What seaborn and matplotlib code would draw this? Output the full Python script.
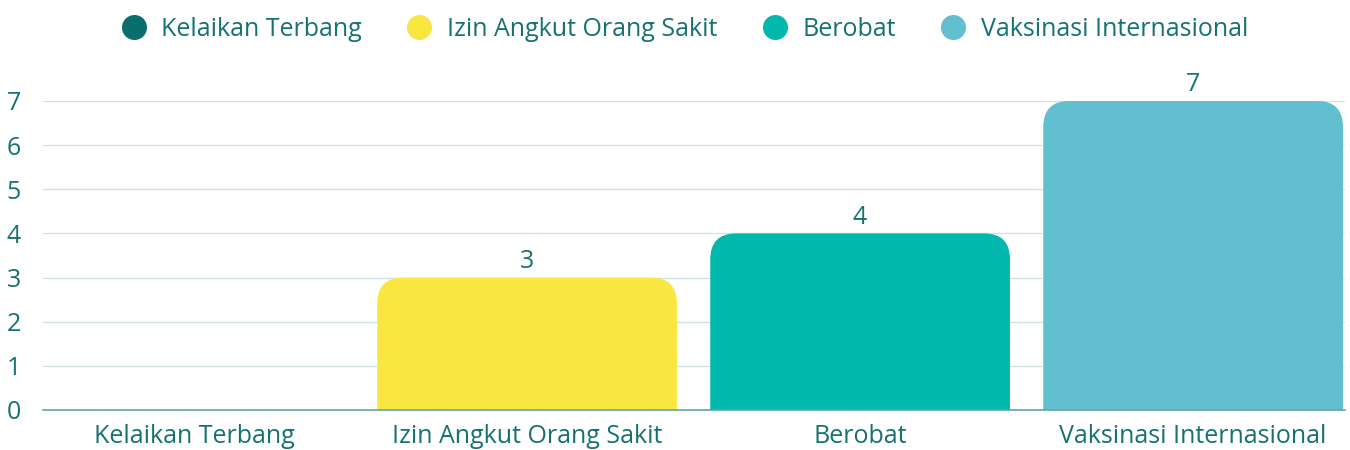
import matplotlib
matplotlib.use("Agg")
import matplotlib.pyplot as plt
from matplotlib.patches import FancyBboxPatch
from matplotlib.lines import Line2D
import seaborn as sns
import pandas as pd

categories = ["Kelaikan Terbang", "Izin Angkut Orang Sakit", "Berobat", "Vaksinasi Internasional"]
values = [0, 3, 4, 7]
colors = ["#0b6e6e", "#f9e640", "#00b8ac", "#61bfcf"]
yticks = [0, 1, 2, 3, 4, 5, 6, 7]

TEXT = "#167272"

sns.set_theme(style="white")
plt.rcParams["font.family"] = ["Open Sans", "DejaVu Sans"]

df = pd.DataFrame({"cat": categories, "val": values})

fig = plt.figure(figsize=(13.5, 4.5), dpi=100)
ax = fig.add_axes([0.032, 0.0889, 0.9643, 0.6867])

sns.barplot(data=df, x="cat", y="val", hue="cat", palette=colors, dodge=False,
            width=0.9, legend=False, ax=ax, saturation=1)

ax.set_xlim(-0.453, 3.456)
ax.set_ylim(0, 7)

# replace rectangles with top-rounded bars
xpx = ax.bbox.width / (3.456 + 0.453)
ypx = ax.bbox.height / 7.0
rpx = 26
r_x = rpx / xpx
aspect = (rpx / ypx) / r_x
for p in list(ax.patches):
    x0, w, h = p.get_x(), p.get_width(), p.get_height()
    fc = p.get_facecolor()
    p.remove()
    if h <= 0:
        continue
    fb = FancyBboxPatch((x0, -1.5), w, h + 1.5,
                        boxstyle=f"round,pad=0,rounding_size={r_x}",
                        mutation_aspect=aspect, fc=fc, ec="none", zorder=2)
    ax.add_patch(fb)

for i, v in enumerate(values):
    if v > 0:
        ax.text(i, v + 0.08, str(v), ha="center", va="bottom", color=TEXT, fontsize=18)

ax.set_yticks(yticks)
ax.yaxis.grid(True, color="#cfe3e7", linewidth=1)
ax.set_axisbelow(True)
for s in ["top", "right", "left"]:
    ax.spines[s].set_visible(False)
ax.spines["bottom"].set_color("#5ea6aa")
ax.spines["bottom"].set_linewidth(1.2)
ax.spines["bottom"].set_zorder(3)
ax.set_xlabel("")
ax.set_ylabel("")
ax.tick_params(axis="both", length=0, labelsize=18, colors=TEXT)
ax.tick_params(axis="y", pad=16)
ax.tick_params(axis="x", pad=10)

handles = [Line2D([0], [0], marker="o", linestyle="none", markersize=17,
                  markerfacecolor=c, markeredgecolor=c) for c in colors]
fig.legend(handles, categories, loc="upper center", bbox_to_anchor=(0.508, 1.012),
           ncol=4, frameon=False, fontsize=18, labelcolor=TEXT,
           handletextpad=0.7, columnspacing=1.9, handlelength=0.8)

fig.savefig("out.png", dpi=100)
